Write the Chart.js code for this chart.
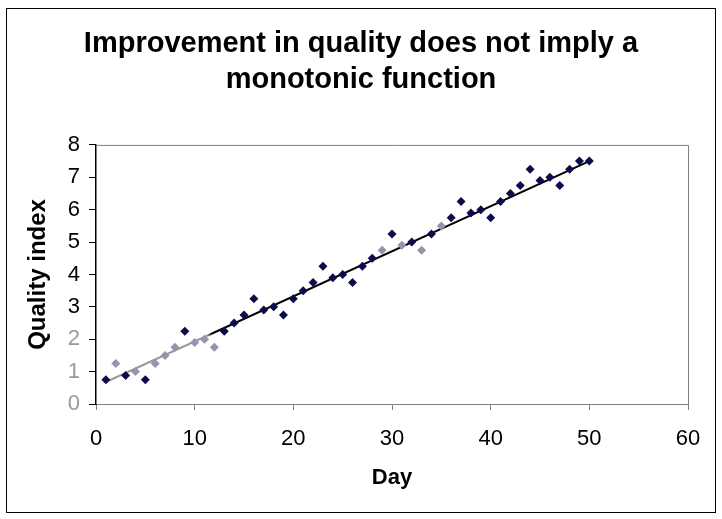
<!DOCTYPE html>
<html>
<head>
<meta charset="utf-8">
<script src="https://cdn.jsdelivr.net/npm/chart.js@4/dist/chart.umd.min.js"></script>
<style>
  html, body { margin: 0; padding: 0; background: #fff; }
  #wrap { width: 722px; height: 519px; }
</style>
</head>
<body>
<div id="wrap"><canvas id="chart" width="722" height="519"></canvas></div>
<script>
// values
var days = [1, 2, 3, 4, 5, 6, 7, 8, 9, 10,
  11, 12, 13, 14, 15, 16, 17, 18, 19, 20,
  21, 22, 23, 24, 25, 26, 27, 28, 29, 30,
  31, 32, 33, 34, 35, 36, 37, 38, 39, 40,
  41, 42, 43, 44, 45, 46, 47, 48, 49, 50];
var quality = [0.75, 1.25, 0.88, 1.0, 0.75, 1.25, 1.5, 1.75, 2.25, 1.9,
  2.0, 1.75, 2.25, 2.5, 2.75, 3.25, 2.9, 3.0, 2.75, 3.25,
  3.5, 3.75, 4.25, 3.9, 4.0, 3.75, 4.25, 4.5, 4.75, 5.25,
  4.9, 5.0, 4.75, 5.25, 5.5, 5.75, 6.25, 5.9, 6.0, 5.75,
  6.25, 6.5, 6.75, 7.25, 6.9, 7.0, 6.75, 7.25, 7.5, 7.5];
var trendDays = [1, 50];
var trendValues = [0.68, 7.5];
var xTicks = [0, 10, 20, 30, 40, 50, 60];
var yTicks = [0, 1, 2, 3, 4, 5, 6, 7, 8];

// days whose markers look washed out in the picture
var fadedDays = [2, 4, 6, 7, 8, 10, 11, 12, 29, 31, 33, 35];

var points = days.map(function(d, i) { return {x: d, y: quality[i]}; });
var trend = trendDays.map(function(d, i) { return {x: d, y: trendValues[i]}; });

var frame = {
  id: 'frame',
  beforeDraw: function(chart) {
    var c = chart.ctx;
    c.save();
    c.fillStyle = '#fff';
    c.fillRect(0, 0, chart.width, chart.height);
    c.strokeStyle = '#000';
    c.lineWidth = 1;
    c.strokeRect(6.5, 8.5, 709, 504);
    c.restore();
  },
  afterDatasetsDraw: function(chart) {
    var a = chart.chartArea;
    var c = chart.ctx;
    c.save();
    c.strokeStyle = '#808080';
    c.lineWidth = 1;
    c.beginPath();
    c.moveTo(a.left, a.top + 0.5);
    c.lineTo(a.right + 0.5, a.top + 0.5);
    c.lineTo(a.right + 0.5, a.bottom);
    c.stroke();
    c.restore();
  }
};

function trendColor(context) {
  var chart = context.chart;
  if (!chart.chartArea) return '#000';
  var xs = chart.scales.x;
  var g = chart.ctx.createLinearGradient(xs.getPixelForValue(1), 0, xs.getPixelForValue(50), 0);
  g.addColorStop(0, '#9a9a9a');
  g.addColorStop(0.21, '#9a9a9a');
  g.addColorStop(0.22, '#000');
  g.addColorStop(1, '#000');
  return g;
}

var ctx = document.getElementById('chart').getContext('2d');
new Chart(ctx, {
  type: 'scatter',
  data: {
    datasets: [
      {
        label: 'Quality',
        data: points,
        pointStyle: 'rectRot',
        pointRadius: 4.5,
        pointHoverRadius: 4.5,
        pointBorderWidth: 0,
        pointBackgroundColor: function(c) {
          return fadedDays.indexOf(days[c.dataIndex]) >= 0 ? '#9494ac' : '#0c0c4c';
        },
        order: 1
      },
      {
        label: 'Trend',
        type: 'line',
        data: trend,
        borderColor: trendColor,
        borderWidth: 2,
        pointRadius: 0,
        fill: false,
        order: 2
      }
    ]
  },
  options: {
    responsive: false,
    animation: false,
    devicePixelRatio: 1,
    layout: {
      padding: {left: 20, right: 20, top: 8, bottom: 8}
    },
    plugins: {
      legend: { display: false },
      tooltip: { enabled: false },
      title: {
        display: true,
        text: ['Improvement in quality does not imply a', 'monotonic function'],
        color: '#000',
        font: { family: "'Liberation Sans', Arial", size: 29, weight: 'bold', lineHeight: 1.24 },
        padding: { top: 18, bottom: 47 }
      }
    },
    scales: {
      x: {
        type: 'linear',
        min: 0,
        max: 60,
        afterBuildTicks: function(s) { s.ticks = xTicks.map(function(v) { return {value: v}; }); },
        afterFit: function(s) { s.height = 107; },
        border: { display: true, color: '#808080', width: 1 },
        grid: { drawOnChartArea: false, drawTicks: true, tickLength: 6, color: '#808080' },
        ticks: {
          color: '#000',
          padding: 16,
          maxRotation: 0,
          font: { family: "'Liberation Sans', Arial", size: 22 }
        },
        title: {
          display: true,
          text: 'Day',
          color: '#000',
          font: { family: "'Liberation Sans', Arial", size: 22, weight: 'bold', lineHeight: 1.2 },
          padding: { top: 20, bottom: 20 }
        }
      },
      y: {
        type: 'linear',
        min: 0,
        max: 8,
        afterBuildTicks: function(s) { s.ticks = yTicks.map(function(v) { return {value: v}; }); },
        afterFit: function(s) { s.width = 76; },
        border: { display: true, color: '#000', width: 1.5 },
        grid: { drawOnChartArea: false, drawTicks: true, tickLength: 7, color: '#000' },
        ticks: {
          padding: 9,
          color: function(c) { return c.tick.value <= 2 ? '#999' : '#000'; },
          font: { family: "'Liberation Sans', Arial", size: 22 }
        },
        title: {
          display: true,
          text: 'Quality index',
          color: '#000',
          font: { family: "'Liberation Sans', Arial", size: 24, weight: 'bold', lineHeight: 1.2 },
          padding: { top: 4, bottom: 4 }
        }
      },
      // empty strip on the right so the plot ends where the reference does
      yRight: {
        type: 'linear',
        position: 'right',
        display: true,
        afterFit: function(s) { s.width = 14; },
        border: { display: false },
        grid: { display: false },
        ticks: { display: false }
      }
    }
  },
  plugins: [frame]
});
</script>
</body>
</html>
